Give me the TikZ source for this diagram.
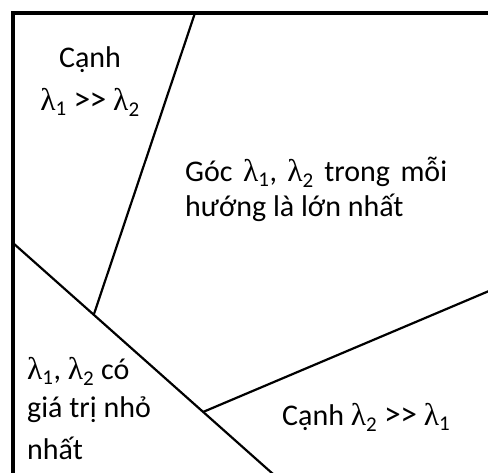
\documentclass[tikz,border=0pt]{standalone}
\usepackage{fontspec}
\setmainfont{Carlito}
\newfontfamily\lamfont{Liberation Serif}
\newcommand{\lam}[1]{{\lamfont\scalebox{1.05}{λ}}\textsubscript{#1}}
\newcommand{\gtgt}{\scalebox{1.12}{>\kern-0.5pt>}}
\begin{document}
\begin{tikzpicture}[x=1pt,y=-1pt,
  frame/.style={line width=3.2pt},
  divider/.style={line width=2.2pt},
  lbl/.style={inner sep=0pt,font=\fontsize{30}{36}\selectfont}]
\useasboundingbox (0,0) rectangle (488,473);
% frame
\coordinate (fb) at (13,475);
\coordinate (ftl) at (13,13);
\coordinate (ftr) at (490,13);
\draw[frame] (fb) -- (ftl) -- (ftr);
% dividers
\coordinate (t1) at (195,13);
\coordinate (j1) at (94,314);
\coordinate (l2) at (13,243);
\coordinate (j2) at (203,412);
\coordinate (b2) at (273,474);
\coordinate (r3) at (489,291);
\draw[divider] (t1) -- (j1);
\draw[divider] (l2) -- (b2);
\draw[divider] (j2) -- (r3);
% labels
\node[lbl,anchor=base] (a1) at (90,68) {Cạnh};
\node[lbl,anchor=base] (a2) at (90,111) {\lam{1} \gtgt{} \lam{2}};
\node[lbl,anchor=base west] (b1) at (185,182) {\makebox[262pt][s]{Góc\hfill\lam{1},\hfill\lam{2}\hfill trong\hfill mỗi}};
\node[lbl,anchor=base west] (b2t) at (185,217) {hướng là lớn nhất};
\node[lbl,anchor=base west] (c1) at (27,380) {\lam{1}, \lam{2} có};
\node[lbl,anchor=base west] (c2) at (27,418) {giá trị nhỏ};
\node[lbl,anchor=base west] (c3) at (27,460) {nhất};
\node[lbl,anchor=base west] (d1) at (282,426) {Cạnh \lam{2} \gtgt{} \lam{1}};
\end{tikzpicture}
\end{document}
